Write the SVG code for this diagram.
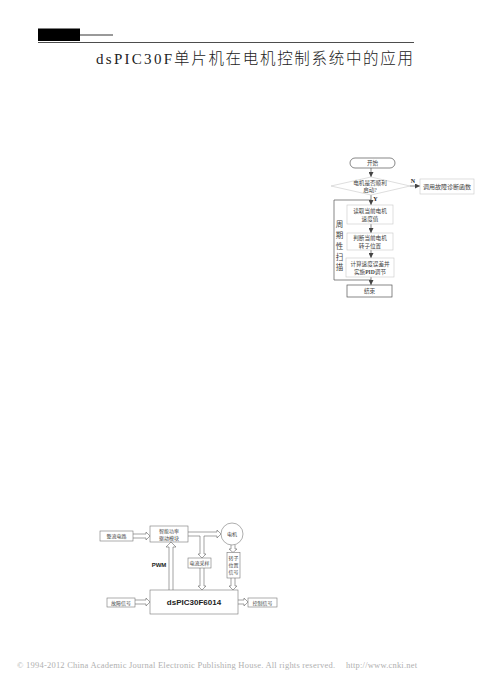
<svg xmlns="http://www.w3.org/2000/svg" width="504" height="685" viewBox="0 0 504 685">
<defs>
<style>
.t{font-family:"Liberation Serif","Noto Sans CJK SC",serif;fill:#444;text-anchor:middle}
.fc{font-size:5.6px}
.bd{font-size:5px}
.pb{fill:#fff;stroke:#c8c8c8;stroke-width:0.6}
.pd{fill:#fff;stroke:#555;stroke-width:0.7}
.bb{fill:#fff;stroke:#777;stroke-width:0.6}
.ln{fill:none;stroke:#555;stroke-width:0.7}
.ha{fill:#fff;stroke:#666;stroke-width:0.6}
</style>
<marker id="ah" viewBox="0 0 6 6" refX="6" refY="3" markerWidth="5" markerHeight="5" orient="auto" markerUnits="userSpaceOnUse">
<path d="M0,0 L6,3 L0,6 Z" fill="#444"/>
</marker>
</defs>
<rect width="504" height="685" fill="#fff"/>

<g id="header">
<rect x="38" y="28.5" width="42" height="12.5" fill="#000"/>
<line x1="80" y1="35" x2="113" y2="35" stroke="#000" stroke-width="0.8"/>
<line x1="38" y1="42.5" x2="414" y2="42.5" stroke="#000" stroke-width="0.7"/>
<text x="96" y="64" font-family="Liberation Serif, serif" font-size="15" fill="#222" textLength="76" lengthAdjust="spacing">dsPIC30F</text>
<text x="174" y="64" font-family="Liberation Serif, 'Noto Sans CJK SC', serif" font-size="15.5" font-weight="300" fill="#222" textLength="239" lengthAdjust="spacing">单片机在电机控制系统中的应用</text>
</g>

<!-- Flowchart -->
<g id="fc-connectors">
<line class="ln" x1="371" y1="168" x2="371" y2="177" marker-end="url(#ah)"/>
<line class="ln" x1="371" y1="195" x2="371" y2="205" marker-end="url(#ah)"/>
<line class="ln" x1="371" y1="224" x2="371" y2="233" marker-end="url(#ah)"/>
<line class="ln" x1="371" y1="250" x2="371" y2="258" marker-end="url(#ah)"/>
<line class="ln" x1="371" y1="277" x2="371" y2="285" marker-end="url(#ah)"/>
<line class="ln" x1="410" y1="186" x2="420" y2="186" marker-end="url(#ah)"/>
<polyline class="ln" points="371,280 334,280 334,200 371,200"/>
<text x="413" y="183" font-family="Liberation Serif, serif" font-size="6" font-weight="bold" fill="#222" text-anchor="middle">N</text>
<text x="375.5" y="201" font-family="Liberation Serif, serif" font-size="6" font-weight="bold" fill="#222" text-anchor="middle">Y</text>
<g font-family="Liberation Serif, 'Noto Sans CJK SC', serif" font-size="7.5" fill="#444" text-anchor="middle">
<text x="339.5" y="227">周</text>
<text x="339.5" y="238">期</text>
<text x="339.5" y="249">性</text>
<text x="339.5" y="259.5">扫</text>
<text x="339.5" y="270">描</text>
</g>
</g>

<g id="fc-start">
<rect class="pd" x="350" y="158" width="45" height="10" rx="5"/>
<text class="t fc" x="372.5" y="165">开始</text>
</g>
<g id="fc-decision">
<polygon class="pb" points="331,186 371,177 410,186 371,195"/>
<text class="t fc" x="370" y="185">电机是否顺利</text>
<text class="t fc" x="370" y="192">启动?</text>
</g>
<g id="fc-fault">
<rect class="pb" x="420" y="179" width="54" height="15"/>
<text class="t" x="447" y="188.5" font-size="6">调用故障诊断函数</text>
</g>
<g id="fc-read">
<rect class="pb" x="347" y="205" width="46" height="19"/>
<text class="t fc" x="370" y="213">读取当前电机</text>
<text class="t fc" x="370" y="220.5">速度值</text>
</g>
<g id="fc-judge">
<rect class="pb" x="347" y="233" width="46" height="17"/>
<text class="t fc" x="370" y="240">判断当前电机</text>
<text class="t fc" x="370" y="247.5">转子位置</text>
</g>
<g id="fc-calc">
<rect class="pb" x="346" y="258" width="48" height="19"/>
<text class="t fc" x="370" y="265.5">计算速度误差并</text>
<text class="t fc" x="370" y="273.5">实施<tspan font-weight="bold">PID</tspan>调节</text>
</g>
<g id="fc-end">
<rect class="pd" x="347" y="285" width="45" height="12"/>
<text class="t fc" x="369.5" y="293">结束</text>
</g>

<!-- Block diagram -->
<g id="bd-connectors">
<path class="ha" d="M133,534 L146,534 L146,532 L150,536 L146,540 L146,538 L133,538"/>
<path class="ha" d="M188,532 L217,532 L217,530 L221,534 L217,538 L217,536 L204,536 L204,554 L206,554 L202,558 L198,554 L200,554 L200,536 L188,536"/>
<path class="ha" d="M200,568 L200,586 L198,586 L202,590 L206,586 L204,586 L204,568"/>
<path class="ha" d="M169,590 L169,547 L166,547 L171,542 L176,547 L173,547 L173,590"/>
<path class="ha" d="M231,545 L231,549 L229,549 L233,552.5 L237,549 L235,549 L235,545"/>
<path class="ha" d="M231,578 L231,586 L229,586 L233,590 L237,586 L235,586 L235,578"/>
<path class="ha" d="M135,600 L146,600 L146,598 L150,602 L146,606 L146,604 L135,604"/>
<path class="ha" d="M238,600 L244,600 L244,598 L248,602 L244,606 L244,604 L238,604"/>
<text x="159" y="567" font-family="Liberation Sans, sans-serif" font-size="6" font-weight="bold" fill="#222" text-anchor="middle">PWM</text>
</g>

<g id="bd-rectifier">
<rect class="bb" x="100" y="531" width="33" height="10"/>
<text class="t bd" x="116.5" y="537.8">整流电路</text>
</g>
<g id="bd-ipm">
<rect class="bb" x="150" y="526" width="38" height="16"/>
<text class="t bd" x="169" y="532.5">智能功率</text>
<text class="t bd" x="169" y="539.5">驱动模块</text>
</g>
<g id="bd-motor">
<circle class="bb" cx="232" cy="534" r="11"/>
<text class="t bd" x="232" y="536">电机</text>
</g>
<g id="bd-current">
<rect class="bb" x="188" y="558" width="23" height="10"/>
<text class="t bd" x="199.5" y="565">电流采样</text>
</g>
<g id="bd-rotor">
<rect class="bb" x="227" y="552.5" width="13" height="25.5"/>
<text class="t bd" x="233.5" y="560">转子</text>
<text class="t bd" x="233.5" y="567">位置</text>
<text class="t bd" x="233.5" y="574">信号</text>
</g>
<g id="bd-fault">
<rect class="bb" x="107" y="598" width="28" height="9"/>
<text class="t bd" x="121" y="604.5">故障信号</text>
</g>
<g id="bd-dspic">
<rect class="bb" x="150" y="590" width="88" height="24"/>
<text x="194" y="605" font-family="Liberation Sans, sans-serif" font-size="8" font-weight="bold" fill="#222" text-anchor="middle">dsPIC30F6014</text>
</g>
<g id="bd-control">
<rect class="bb" x="248" y="598" width="29" height="9"/>
<text class="t bd" x="262.5" y="604.5">控制信号</text>
</g>

<g id="footer" font-family="Liberation Serif, serif" font-size="8.5" fill="#b0b0b0">
<text x="17" y="668" textLength="318" lengthAdjust="spacing">© 1994-2012 China Academic Journal Electronic Publishing House. All rights reserved.</text>
<text x="346" y="668" textLength="71" lengthAdjust="spacing">http://www.cnki.net</text>
</g>
</svg>
